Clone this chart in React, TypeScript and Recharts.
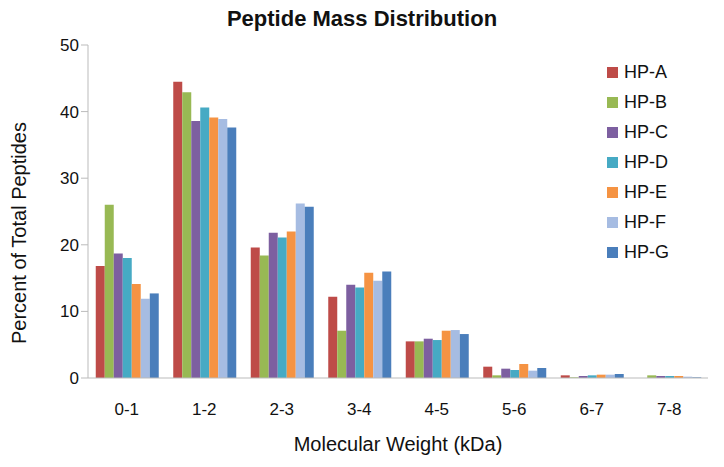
import { BarChart, Bar, XAxis, YAxis, Legend } from "recharts"

const categories = ["0-1", "1-2", "2-3", "3-4", "4-5", "5-6", "6-7", "7-8"]
const seriesNames = ["HP-A", "HP-B", "HP-C", "HP-D", "HP-E", "HP-F", "HP-G"]
const colors = ["#BE4B48", "#98B954", "#7D5FA0", "#46AAC4", "#F59343", "#A6BCE2", "#4A7EBB"]

// percent of total peptides per mass bin
const hpA = [16.8, 44.5, 19.6, 12.2, 5.5, 1.7, 0.4, 0.0]
const hpB = [26.0, 42.9, 18.4, 7.1, 5.5, 0.4, 0.1, 0.4]
const hpC = [18.7, 38.6, 21.8, 14.0, 5.9, 1.4, 0.3, 0.3]
const hpD = [18.0, 40.6, 21.1, 13.6, 5.7, 1.2, 0.4, 0.3]
const hpE = [14.1, 39.1, 22.0, 15.8, 7.1, 2.1, 0.5, 0.3]
const hpF = [11.9, 38.9, 26.2, 14.6, 7.2, 1.1, 0.5, 0.2]
const hpG = [12.7, 37.6, 25.7, 16.0, 6.6, 1.5, 0.6, 0.1]

const yTicks = [0, 10, 20, 30, 40, 50]
const boundaryTicks = [0, 1, 2, 3, 4, 5, 6, 7, 8]

const allSeries = [hpA, hpB, hpC, hpD, hpE, hpF, hpG]
const data = categories.map((c, i) => {
  const row: any = { bin: c }
  seriesNames.forEach((s, j) => (row[s] = allSeries[j][i]))
  return row
})

const font = "'Liberation Sans', Arial, sans-serif"

const LegendBox = () => (
  <div style={{ fontFamily: font }}>
    {seriesNames.map((s, i) => (
      <div key={s} style={{ display: "flex", alignItems: "center", height: 30 }}>
        <span style={{ width: 11, height: 11, background: colors[i], marginRight: 6 }} />
        <span style={{ fontSize: 18, color: "#111" }}>{s}</span>
      </div>
    ))}
  </div>
)

const YLabel = () => (
  <text
    x={19}
    y={233}
    transform="rotate(-90 19 233)"
    textAnchor="middle"
    dominantBaseline="central"
    fontSize={20}
    fill="#111"
    fontFamily={font}
  >
    Percent of Total Peptides
  </text>
)

export default function App() {
  return (
    <div style={{ position: "absolute", left: 0, top: 0, width: 724, height: 467, background: "#fff" }}>
      <div
        style={{
          position: "absolute",
          top: 6,
          left: 0,
          width: 724,
          textAlign: "center",
          fontFamily: font,
          fontWeight: "bold",
          fontSize: 22,
          color: "#111",
        }}
      >
        Peptide Mass Distribution
      </div>
      <BarChart
        width={724}
        height={467}
        data={data}
        margin={{ top: 45, right: 16, bottom: 0, left: 0 }}
        barCategoryGap="10%"
        barGap={0}
      >
        {/* boundary tick marks between bins, Excel style */}
        <XAxis
          xAxisId="bounds"
          type="number"
          domain={[0, 8]}
          ticks={boundaryTicks}
          height={1}
          tick={false}
          tickSize={6}
          stroke="#BBBBBB"
          axisLine={{ stroke: "#BBBBBB" }}
          allowDataOverflow
        />
        <XAxis
          xAxisId="cat"
          dataKey="bin"
          height={88}
          tickLine={false}
          axisLine={false}
          tick={{ fontSize: 17, fill: "#111", fontFamily: font, dy: 16 }}
          label={{ value: "Molecular Weight (kDa)", position: "insideBottom", offset: 16, fontSize: 20, fill: "#111", fontFamily: font }}
        />
        <YAxis
          width={88}
          domain={[0, 50]}
          ticks={yTicks}
          stroke="#BBBBBB"
          tickSize={7}
          tick={{ fontSize: 17, fill: "#111", fontFamily: font }}
          label={<YLabel />}
        />
        <Legend
          content={<LegendBox />}
          layout="vertical"
          align="center"
          verticalAlign="middle"
          wrapperStyle={{ position: "absolute", left: 607, top: 57, width: 110 }}
        />
        {seriesNames.map((s, i) => (
          <Bar key={s} xAxisId="cat" dataKey={s} fill={colors[i]} isAnimationActive={false} />
        ))}
      </BarChart>
    </div>
  )
}
